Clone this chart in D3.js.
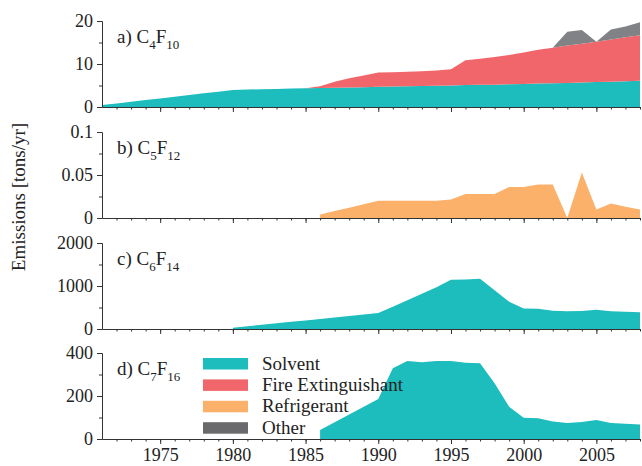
<!DOCTYPE html>
<html>
<head>
<meta charset="utf-8">
<script src="https://cdn.jsdelivr.net/npm/d3@7"></script>
<style>
    body { margin: 0; background: #fff; }
    text { font-family: "Liberation Serif", "Times New Roman", Tinos, "DejaVu Serif", serif; }
    .axis path, .axis line { stroke: #333; }
    .axis text { fill: #222; font-size: 18px; }
</style>
</head>
<body>
<div id="svg_div"></div>
<script>
// years shared by all panels
let years = d3.range(1971, 2009);

// a) C4F10, stacked by use
let c4f10_solvent = [0.45, 0.84, 1.23, 1.62, 2.0, 2.4, 2.8, 3.2, 3.55, 3.95,
    4.05, 4.15, 4.2, 4.3, 4.35, 4.4, 4.5, 4.55, 4.6, 4.7,
    4.75, 4.8, 4.9, 4.95, 5.0, 5.1, 5.15, 5.2, 5.3, 5.35,
    5.45, 5.5, 5.6, 5.7, 5.8, 5.9, 6.0, 6.1];
let c4f10_fire = [0, 0, 0, 0, 0, 0, 0, 0, 0, 0,
    0, 0, 0, 0, 0, 0.4, 1.4, 2.15, 2.7, 3.3,
    3.35, 3.4, 3.4, 3.55, 3.8, 5.8, 6.05, 6.4, 6.8, 7.35,
    7.85, 8.3, 8.7, 9.0, 9.4, 9.8, 10.2, 10.6];
let c4f10_other = [0, 0, 0, 0, 0, 0, 0, 0, 0, 0,
    0, 0, 0, 0, 0, 0, 0, 0, 0, 0,
    0, 0, 0, 0, 0, 0, 0, 0, 0, 0,
    0, 0, 3.2, 3.2, 0, 2.3, 2.5, 3.0];

// b) C5F12 refrigerant (null = no data)
let c5f12_refrigerant = [null, null, null, null, null, null, null, null, null, null,
    null, null, null, null, null, 0.004, 0.008, 0.012, 0.016, 0.020,
    0.020, 0.020, 0.020, 0.020, 0.0215, 0.028, 0.028, 0.028, 0.036, 0.036,
    0.039, 0.039, 0.0, 0.053, 0.010, 0.017, 0.013, 0.0098];

// c) C6F14 solvent
let c6f14_solvent = [null, null, null, null, null, null, null, null, null, 30,
    64, 98, 132, 166, 200, 234, 268, 302, 336, 370,
    520, 670, 820, 970, 1145, 1150, 1170, 900, 635, 478,
    470, 424, 410, 420, 447, 410, 400, 390];

// d) C7F16 solvent
let c7f16_solvent = [null, null, null, null, null, null, null, null, null, null,
    null, null, null, null, null, 42, 78, 114, 150, 186,
    329, 363, 357, 363, 363, 355, 352, 259, 150, 99,
    96, 81, 75, 79, 88, 75, 71, 68];

// y ticks per panel
let ticks_a = [0, 10, 20];
let ticks_b = [0, 0.05, 0.1];
let ticks_c = [0, 1000, 2000];
let ticks_d = [0, 200, 400];
let x_ticks = [1975, 1980, 1985, 1990, 1995, 2000, 2005];

let legend_labels = ["Solvent", "Fire Extinguishant", "Refrigerant", "Other"];

let colors = {
    solvent: "#1dbdbe",
    fire: "#f1666a",
    refrigerant: "#fbb16a",
    other: "#808285",
    other_legend: "#6a6a6d"
};

let font = "'Liberation Serif', 'Times New Roman', Tinos, 'DejaVu Serif', serif";

let width = 642;
let height = 466;
let left = 102;
let right = 640;
let panel_h = 86;
let panel_tops = [21, 132, 243, 353];

let svg = d3.select("#svg_div").append("svg")
    .attr("width", width)
    .attr("height", height)
    .attr("font-family", font);

let x = d3.scaleLinear()
    .domain([1971, 2008])
    .range([left, right]);

function drawPanel(i, ticks, label_main, sub1, sub2, draw) {
    let top = panel_tops[i];
    let y = d3.scaleLinear()
        .domain([0, ticks[2]])
        .range([top + panel_h, top]);

    let g = svg.append("g").attr("class", "panel");

    draw(g, y);

    //x axis, minor every year, major every 5
    g.append("g")
        .attr("class", "axis")
        .attr("transform", "translate(0," + (top + panel_h) + ")")
        .call(d3.axisBottom(x).tickValues(d3.range(1972, 2009)).tickSize(2.5).tickSizeOuter(0).tickFormat(""));
    let major = g.append("g")
        .attr("class", "axis")
        .attr("transform", "translate(0," + (top + panel_h) + ")")
        .call(d3.axisBottom(x).tickValues(x_ticks).tickSize(5).tickPadding(4)
            .tickFormat(i == 3 ? d3.format("d") : ""));
    major.select(".domain").remove();

    //y axis
    let minor = [ticks[0] + (ticks[1] - ticks[0]) / 2, ticks[1] + (ticks[2] - ticks[1]) / 2];
    g.append("g")
        .attr("class", "axis")
        .attr("transform", "translate(" + left + ",0)")
        .call(d3.axisLeft(y).tickValues(minor).tickSize(3).tickSizeOuter(0).tickFormat(""));
    g.append("g")
        .attr("class", "axis")
        .attr("transform", "translate(" + left + ",0)")
        .call(d3.axisLeft(y).tickValues(ticks).tickSize(5).tickSizeOuter(0).tickPadding(4)
            .tickFormat(d => d3.format("")(d)));

    g.selectAll(".axis").attr("font-family", font);

    //panel label like "a) C4F10"
    let t = g.append("text")
        .attr("x", 117)
        .attr("y", top + 22)
        .attr("font-size", 19)
        .attr("font-family", font)
        .attr("fill", "#222");
    t.append("tspan").text(label_main + " C");
    t.append("tspan").attr("dy", 6).attr("font-size", 13).text(sub1);
    t.append("tspan").attr("dy", -6).text("F");
    t.append("tspan").attr("dy", 6).attr("font-size", 13).text(sub2);
}

function singleArea(g, y, values, color) {
    let area = d3.area()
        .defined((d, i) => values[i] !== null)
        .x((d, i) => x(years[i]))
        .y0(y(0))
        .y1((d, i) => y(values[i]));
    g.append("path")
        .datum(years)
        .attr("fill", color)
        .attr("d", area);
}

// panel a, stacked
drawPanel(0, ticks_a, "a)", "4", "10", (g, y) => {
    let rows = years.map((yr, i) => ({
        year: yr,
        solvent: c4f10_solvent[i],
        fire: c4f10_fire[i],
        other: c4f10_other[i]
    }));
    let series = d3.stack().keys(["solvent", "fire", "other"])(rows);
    let area = d3.area()
        .x(d => x(d.data.year))
        .y0(d => y(d[0]))
        .y1(d => y(d[1]));
    g.selectAll(".layer")
        .data(series)
        .join("path")
        .attr("class", "layer")
        .attr("fill", d => colors[d.key])
        .attr("d", area);
});

drawPanel(1, ticks_b, "b)", "5", "12", (g, y) => singleArea(g, y, c5f12_refrigerant, colors.refrigerant));
drawPanel(2, ticks_c, "c)", "6", "14", (g, y) => singleArea(g, y, c6f14_solvent, colors.solvent));
drawPanel(3, ticks_d, "d)", "7", "16", (g, y) => singleArea(g, y, c7f16_solvent, colors.solvent));

//y label
svg.append("text")
    .attr("transform", "translate(25,197) rotate(-90)")
    .attr("text-anchor", "middle")
    .attr("font-size", 19)
    .attr("font-family", font)
    .attr("fill", "#222")
    .text("Emissions [tons/yr]");

//legend
let legend_colors = [colors.solvent, colors.fire, colors.refrigerant, colors.other_legend];
let legend = svg.append("g").attr("transform", "translate(203,358)");
legend_labels.forEach((lab, i) => {
    legend.append("rect")
        .attr("x", 0)
        .attr("y", i * 21.4)
        .attr("width", 45)
        .attr("height", 11.5)
        .attr("fill", legend_colors[i]);
    legend.append("text")
        .attr("x", 59)
        .attr("y", i * 21.4 + 11.5)
        .attr("font-size", 19)
        .attr("font-family", font)
        .attr("fill", "#222")
        .text(lab);
});
</script>
</body>
</html>
